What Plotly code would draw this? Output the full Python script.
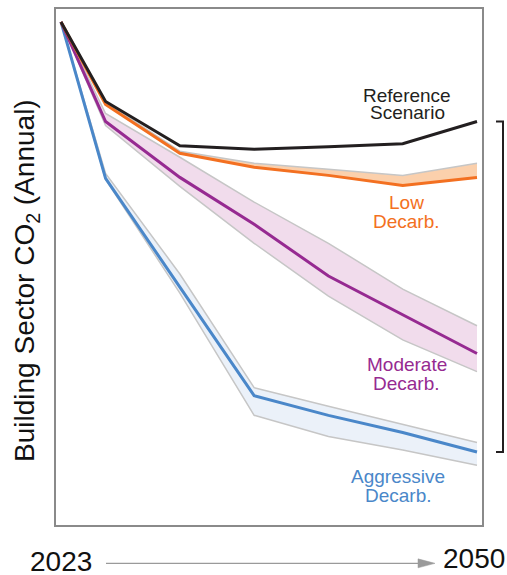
import plotly.graph_objects as go

# ---------------- data (index, first year = 100) ----------------
years = [2022, 2025, 2030, 2035, 2040, 2045, 2050]
reference = [100, 84.2, 75.4, 74.7, 75.2, 75.8, 80.2]
low = [100, 83.6, 73.9, 71.1, 69.5, 67.5, 69.1]
low_upper = [100, 84.0, 74.3, 71.9, 70.7, 69.5, 71.9]
low_lower = [100, 83.6, 73.9, 71.1, 69.5, 67.5, 69.1]
moderate = [100, 80.2, 69.1, 59.8, 49.5, 41.8, 34.1]
moderate_upper = [100, 81.8, 73.1, 64.2, 56.0, 46.9, 39.6]
moderate_lower = [100, 79.4, 67.3, 56.0, 45.5, 36.8, 30.5]
aggressive = [100, 68.9, 47.3, 25.7, 21.8, 18.4, 14.5]
aggressive_upper = [100, 69.9, 49.9, 27.3, 23.6, 20.0, 16.4]
aggressive_lower = [100, 68.7, 46.1, 21.8, 17.6, 14.9, 11.9]

start_label = "2023"
end_label = "2050"
y_title = "Building Sector CO<sub>2</sub> (Annual)"

# ---------------- layout geometry ----------------
W, H = 507, 575
L, R, T, B = 56, 482, 7, 525
FONT = "Arial, 'Liberation Sans', sans-serif"

def px(x):
    return (x - L) / (R - L)

def py(y):
    return (B - y) / (B - T)

BAND_EDGE = "#c6c6c6"
C_REF = "#231f20"
C_LOW = "#f37021"
C_MOD = "#962a91"
C_AGG = "#4a87c9"

fig = go.Figure()

def band(upper, lower, fill):
    fig.add_trace(go.Scatter(x=years, y=upper, mode="lines",
                             line=dict(color=BAND_EDGE, width=1.5),
                             hoverinfo="skip", showlegend=False))
    fig.add_trace(go.Scatter(x=years, y=lower, mode="lines", fill="tonexty",
                             fillcolor=fill,
                             line=dict(color=BAND_EDGE, width=1.5),
                             hoverinfo="skip", showlegend=False))

band(aggressive_upper, aggressive_lower, "#ebf1f9")
band(moderate_upper, moderate_lower, "#f1dcec")
band(low_upper, low_lower, "#fbd0ac")

for ys, c in [(aggressive, C_AGG), (moderate, C_MOD), (low, C_LOW), (reference, C_REF)]:
    fig.add_trace(go.Scatter(x=years, y=ys, mode="lines",
                             line=dict(color=c, width=3),
                             showlegend=False))

annotations = []

def label(text, xc, baseline, color, size=19):
    annotations.append(dict(text=text, x=px(xc), y=py(baseline - size * 0.33 - 1.5),
                            xref="paper", yref="paper", showarrow=False,
                            xanchor="center", yanchor="middle", borderpad=0,
                            font=dict(family=FONT, size=size, color=color)))

label("Reference", 406.5, 101.5, C_REF)
label("Scenario", 407, 119, C_REF)
label("Low", 406.5, 209, C_LOW)
label("Decarb.", 406.5, 227.7, C_LOW)
label("Moderate", 406.5, 371.7, C_MOD)
label("Decarb.", 406.7, 390.7, C_MOD)
label("Aggressive", 398.3, 484, C_AGG)
label("Decarb.", 398.3, 502.7, C_AGG)

# bottom labels
annotations.append(dict(text=start_label, x=px(60.5), y=py(562), xref="paper", yref="paper",
                        showarrow=False, xanchor="center", yanchor="middle", borderpad=0,
                        font=dict(family=FONT, size=28, color="#111")))
annotations.append(dict(text=end_label, x=px(474), y=py(559), xref="paper", yref="paper",
                        showarrow=False, xanchor="center", yanchor="middle", borderpad=0,
                        font=dict(family=FONT, size=28, color="#111")))
# y title
annotations.append(dict(text=y_title, x=px(27), y=py(280), xref="paper", yref="paper",
                        showarrow=False, textangle=-90, xanchor="center", yanchor="middle",
                        font=dict(family=FONT, size=28, color="#111")))

ARROW = "#9a9a9a"
shapes = [
    # bracket spanning reference to aggressive at the final year
    dict(type="path", xref="paper", yref="y",
         path=f"M {px(496)},{reference[-1]} L {px(503)},{reference[-1]} "
              f"L {px(503)},{aggressive[-1]} L {px(496)},{aggressive[-1]}",
         line=dict(color=C_REF, width=2)),
    # time arrow
    dict(type="line", xref="paper", yref="paper",
         x0=px(106), x1=px(422), y0=py(563.5), y1=py(563.5),
         line=dict(color=ARROW, width=1.3)),
    dict(type="path", xref="paper", yref="paper",
         path=f"M {px(418)},{py(559)} L {px(435)},{py(563.5)} L {px(418)},{py(568)} Z",
         fillcolor=ARROW, line=dict(color=ARROW, width=0.5)),
]

fig.update_layout(
    width=W, height=H,
    margin=dict(l=L, r=W - R, t=T, b=H - B),
    paper_bgcolor="white", plot_bgcolor="white",
    xaxis=dict(range=[2022 - 5 / 14.857, 2050 + 5 / 14.857], showgrid=False,
               zeroline=False, showticklabels=False, ticks="",
               showline=True, mirror=True, linecolor="#8a8a8a", linewidth=2),
    yaxis=dict(range=[0, (B - T) / 5.05], showgrid=False, zeroline=False,
               showticklabels=False, ticks="",
               showline=True, mirror=True, linecolor="#8a8a8a", linewidth=2),
    annotations=annotations,
    shapes=shapes,
)

fig.write_html("out.html", config={"displayModeBar": False},
               post_script="document.body.style.margin='0';")
